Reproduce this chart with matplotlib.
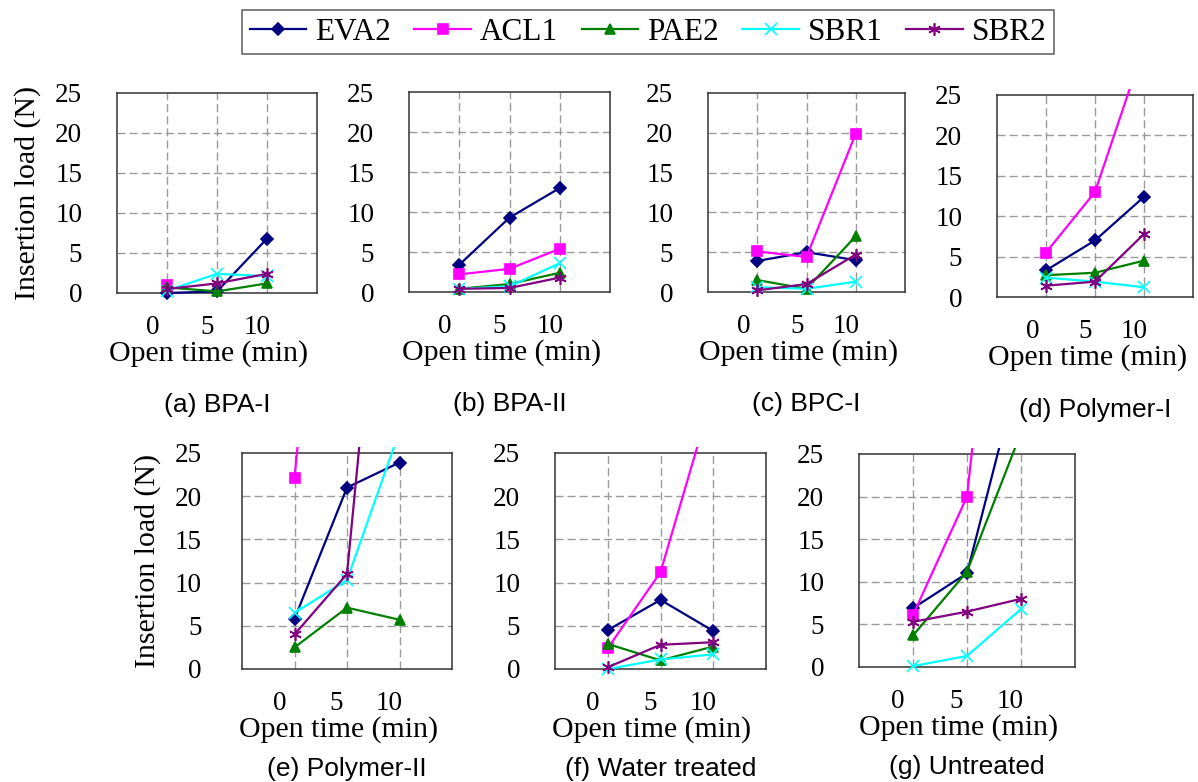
import numpy as np
import matplotlib
matplotlib.use('Agg')
import matplotlib.pyplot as plt
from matplotlib.transforms import Bbox, TransformedBbox

# series and x values (open time, min)
series = ['EVA2', 'ACL1', 'PAE2', 'SBR1', 'SBR2']
open_time = [1, 6, 11]
time_labels = ['0', '5', '10']
load_ticks = [0, 5, 10, 15, 20, 25]

# insertion load (N), one row per series: EVA2, ACL1, PAE2, SBR1, SBR2
bpa_1 = [[0.0, 0.2, 6.8], [1.0, np.nan, np.nan], [0.7, 0.2, 1.2], [0.3, 2.4, 2.1], [0.5, 1.2, 2.4]]
bpa_2 = [[3.4, 9.3, 13.0], [2.2, 2.9, 5.4], [0.4, 1.0, 2.4], [0.4, 0.7, 3.6], [0.4, 0.5, 1.8]]
bpc_1 = [[3.9, 5.0, 4.0], [5.1, 4.4, 19.9], [1.5, 0.4, 7.0], [0.6, 0.4, 1.3], [0.2, 1.0, 4.7]]
polymer_1 = [[3.3, 7.0, 12.4], [5.5, 13.0, 31.0], [2.7, 3.0, 4.5], [2.4, 1.9, 1.2], [1.4, 1.9, 7.8]]
polymer_2 = [[5.8, 21.0, 23.9], [22.1, 85.0, np.nan], [2.5, 7.1, 5.7], [6.5, 10.3, 27.5], [4.0, 11.0, 74.0]]
water = [[4.5, 8.0, 4.4], [2.4, 11.2, 32.0], [2.9, 1.0, 2.6], [0.0, 1.1, 1.7], [0.2, 2.8, 3.1]]
untreated = [[6.9, 11.0, 35.7], [6.1, 20.0, 78.0], [3.7, 11.2, 27.5], [0.1, 1.3, 6.8], [5.3, 6.5, 8.0]]

panel_data = [bpa_1, bpa_2, bpc_1, polymer_1, polymer_2, water, untreated]
captions = ['(a) BPA-I', '(b) BPA-II', '(c) BPC-I', '(d) Polymer-I',
            '(e) Polymer-II', '(f) Water treated', '(g) Untreated']

colors = ['#000080', '#FF00FF', '#008000', '#00FFFF', '#800080']
markers = ['D', 's', '^', 'x', (6, 2, 0)]
msizes = [6, 7, 7.5, 8, 9]

W, H = 1198, 782
# plot boxes in pixels: left, top, right, bottom
boxes = [(117, 93, 317, 293), (409, 92, 610, 292), (708, 93, 905, 292), (997, 95, 1193, 297),
         (242, 453, 452, 669), (555, 453, 766, 669), (859, 454, 1075, 667)]

serif = 'Liberation Serif'
sans = 'Liberation Sans'

fig = plt.figure(figsize=(W / 100, H / 100), dpi=100)

handles = []
for i, (data, cap, box) in enumerate(zip(panel_data, captions, boxes)):
    l, t, r, b = box
    ax = fig.add_axes([l / W, 1 - b / H, (r - l) / W, (b - t) / H])
    ax.set_xlim(-4, 16)
    ax.set_ylim(0, 25)
    clip = TransformedBbox(Bbox([[-0.03, -0.04], [1.0, 1.03]]), ax.transAxes)
    for k in range(len(series)):
        ln, = ax.plot(open_time, data[k], color=colors[k], marker=markers[k],
                      markersize=msizes[k], markeredgecolor=colors[k],
                      markeredgewidth=1.2, lw=1.6, label=series[k], zorder=3)
        ln.set_clip_box(clip)
        if i == 0:
            handles.append(ln)

    # grid at the data positions and every 5 N
    for xv in open_time:
        ax.axvline(xv, color='#9a9a9a', lw=1, dashes=(5.8, 2.9), zorder=1)
    for yv in load_ticks[1:-1]:
        ax.axhline(yv, color='#9a9a9a', lw=1, dashes=(5.8, 2.9), zorder=1)

    ax.set_xticks([-0.4, 5, 10])
    ax.set_xticklabels(time_labels, fontfamily=serif, fontsize=19.5)
    ax.set_yticks(load_ticks)
    ax.set_yticklabels([str(v) for v in load_ticks], fontfamily=serif, fontsize=19.5)
    ax.tick_params(axis='both', length=0, colors='black')
    ax.tick_params(axis='x', pad=16)
    ax.tick_params(axis='y', pad=29 if i == 4 else 25)
    for sp in ax.spines.values():
        sp.set_color('#333333')
        sp.set_linewidth(1.1)

    ax.set_xlabel('Open time (min)', fontfamily=serif, fontsize=21.5, labelpad=0, x=0.46)
    if i in (0, 4):
        ax.set_ylabel('Insertion load (N)', fontfamily=serif, fontsize=21.5, labelpad=10)

    off = -81 if i < 4 else -72
    ax.annotate(cap, xy=(0.5, 0), xycoords='axes fraction', xytext=(0, off),
                textcoords='offset points', ha='center', va='center',
                fontfamily=sans, fontsize=19)

leg = fig.legend(handles=handles, labels=series, loc='center', bbox_to_anchor=(0.541, 0.959),
                 ncol=5, frameon=True, fancybox=False, edgecolor='#333333',
                 prop={'family': serif, 'size': 22.5}, handlelength=1.8, handletextpad=0.3,
                 columnspacing=0.75, borderpad=0.25)
leg.get_frame().set_linewidth(1.1)

fig.savefig('out.png', dpi=100, facecolor='white')
